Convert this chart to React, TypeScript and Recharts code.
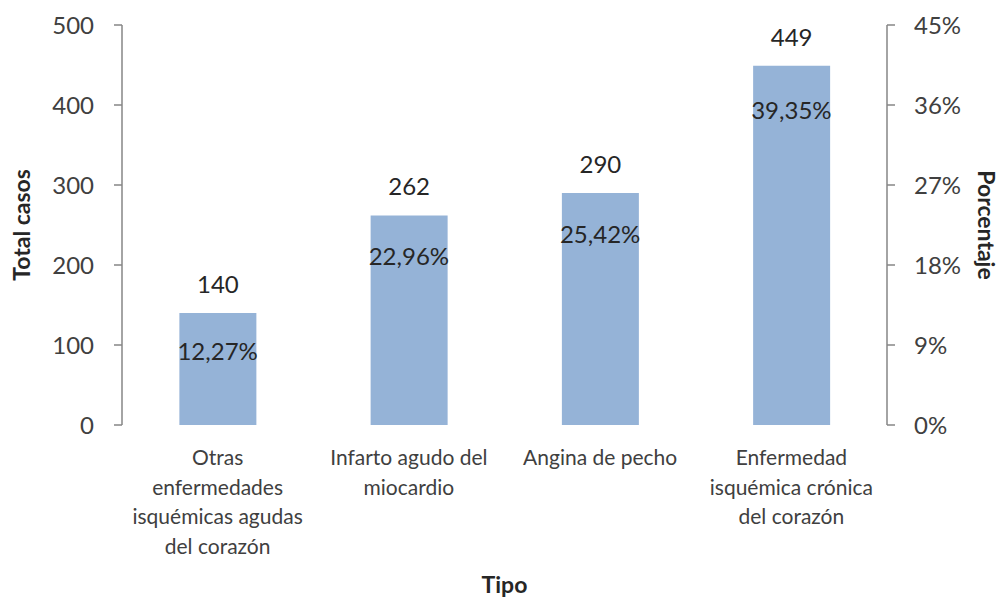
import React from 'react';
import { ComposedChart, Bar, Line, XAxis, YAxis, LabelList } from 'recharts';

const categories = [
  'Otras enfermedades isquémicas agudas del corazón',
  'Infarto agudo del miocardio',
  'Angina de pecho',
  'Enfermedad isquémica crónica del corazón',
];
const categoryLines = [
  ['Otras', 'enfermedades', 'isquémicas agudas', 'del corazón'],
  ['Infarto agudo del', 'miocardio'],
  ['Angina de pecho'],
  ['Enfermedad', 'isquémica crónica', 'del corazón'],
];
const totalCasos = [140, 262, 290, 449];
const porcentaje = [12.27, 22.96, 25.42, 39.35];
const leftTicks = [0, 100, 200, 300, 400, 500];
const rightTicks = [0, 9, 18, 27, 36, 45];

const data = categories.map((name, i) => ({
  name,
  total: totalCasos[i],
  pct: porcentaje[i],
}));

const FONT = 'Lato, "Open Sans", sans-serif';
const TICK_COLOR = '#404040';
const LABEL_COLOR = '#262626';
const AXIS_COLOR = '#868686';

const CategoryTick = (props: any) => {
  const { x, y, payload } = props;
  const lines = categoryLines[payload.index] || [payload.value];
  return (
    <g>
      {lines.map((l, i) => (
        <text
          key={i}
          x={x}
          y={y + 40 + i * 29.5}
          textAnchor="middle"
          fontSize={21}
          fill={TICK_COLOR}
          fontFamily={FONT}
        >
          {l}
        </text>
      ))}
    </g>
  );
};

const fmtPct = (v: any) => Number(v).toFixed(2).replace('.', ',') + '%';

export default function App() {
  return (
    <div style={{ position: 'absolute', left: 0, top: 0, background: '#fff', fontFamily: FONT }}>
      <ComposedChart
        width={1005}
        height={600}
        data={data}
        margin={{ top: 25, right: 0, bottom: 0, left: 0 }}
        barCategoryGap="30%"
      >
        <XAxis
          dataKey="name"
          axisLine={false}
          tickLine={false}
          tickSize={0}
          tickMargin={0}
          height={175}
          interval={0}
          tick={<CategoryTick />}
          label={{
            content: (p: any) => {
              const vb = p.viewBox;
              return (
                <text
                  x={vb.x + vb.width / 2}
                  y={593}
                  textAnchor="middle"
                  fontSize={23}
                  fontWeight="bold"
                  fill={LABEL_COLOR}
                  fontFamily={FONT}
                >
                  Tipo
                </text>
              );
            },
          }}
        />
        <YAxis
          yAxisId="left"
          domain={[0, 500]}
          ticks={leftTicks}
          width={122}
          axisLine={{ stroke: AXIS_COLOR, strokeWidth: 1.5 }}
          tickLine={{ stroke: AXIS_COLOR, strokeWidth: 1.5 }}
          tickSize={8}
          tickMargin={20}
          tick={{ fontSize: 24, fill: TICK_COLOR, fontFamily: FONT }}
          label={{
            content: () => (
              <text
                transform="translate(30, 225) rotate(-90)"
                textAnchor="middle"
                fontSize={23}
                fontWeight="bold"
                fill={LABEL_COLOR}
                fontFamily={FONT}
              >
                Total casos
              </text>
            ),
          }}
        />
        <YAxis
          yAxisId="right"
          orientation="right"
          domain={[0, 45]}
          ticks={rightTicks}
          width={118}
          axisLine={{ stroke: AXIS_COLOR, strokeWidth: 1.5 }}
          tickLine={{ stroke: AXIS_COLOR, strokeWidth: 1.5 }}
          tickSize={8}
          tickMargin={19}
          tickFormatter={(v: number) => `${v}%`}
          tick={{ fontSize: 24, fill: TICK_COLOR, fontFamily: FONT }}
          label={{
            content: () => (
              <text
                transform="translate(978, 225) rotate(90)"
                textAnchor="middle"
                fontSize={23}
                fontWeight="bold"
                fill={LABEL_COLOR}
                fontFamily={FONT}
              >
                Porcentaje
              </text>
            ),
          }}
        />
        <Bar yAxisId="left" dataKey="total" fill="#95b3d7" isAnimationActive={false}>
          <LabelList
            dataKey="total"
            position="top"
            offset={20}
            fontSize={24}
            fill={LABEL_COLOR}
            fontFamily={FONT}
          />
        </Bar>
        <Line
          yAxisId="right"
          dataKey="pct"
          stroke="none"
          dot={false}
          activeDot={false}
          isAnimationActive={false}
        >
          <LabelList
            dataKey="pct"
            position="bottom"
            offset={27}
            fontSize={24}
            fill={LABEL_COLOR}
            fontFamily={FONT}
            formatter={fmtPct}
          />
        </Line>
      </ComposedChart>
    </div>
  );
}
